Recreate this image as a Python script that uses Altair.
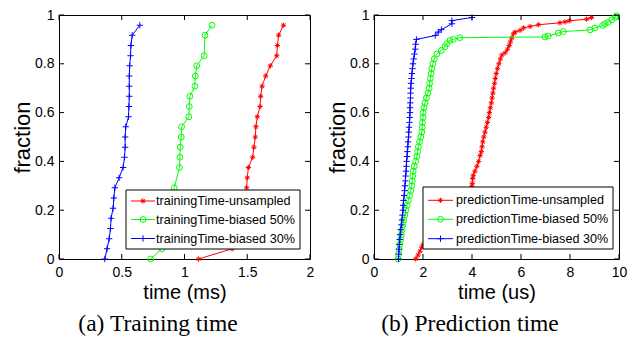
import altair as alt
import pandas as pd

FONT = "Liberation Sans, Arial, sans-serif"
SERIF = "Liberation Serif, Times New Roman, serif"

RED, GREEN, BLUE = "#ff0000", "#00ff00", "#0000ff"
STAR = "M-1,0L1,0M0,-1L0,1M-0.7,-0.7L0.7,0.7M-0.7,0.7L0.7,-0.7"
PLUS = "M-1,0L1,0M0,-1L0,1"

frac_ticks = [0, 0.2, 0.4, 0.6, 0.8, 1]

# ---------------- (a) Training time ----------------
train_x_ticks = [0, 0.5, 1, 1.5, 2]
train_names = ["trainingTime-unsampled", "trainingTime-biased 50%", "trainingTime-biased 30%"]

train_unsampled_t = [1.112, 1.38, 1.42, 1.45, 1.47, 1.48, 1.49, 1.495, 1.50, 1.509, 1.543, 1.553,
                     1.564, 1.569, 1.58, 1.602, 1.607, 1.618, 1.647, 1.684, 1.735, 1.74, 1.75, 1.788]
train_unsampled_f = [0, 0.042, 0.083, 0.125, 0.167, 0.208, 0.25, 0.292, 0.333, 0.375, 0.417, 0.458,
                     0.5, 0.542, 0.583, 0.625, 0.667, 0.708, 0.75, 0.792, 0.833, 0.875, 0.917, 0.958]

train_b50_t = [0.73, 0.82, 0.85, 0.87, 0.88, 0.89, 0.90, 0.918, 0.96, 0.963, 0.966, 0.974, 0.977,
               1.035, 1.038, 1.043, 1.083, 1.086, 1.097, 1.157, 1.163, 1.219]
train_b50_f = [0, 0.042, 0.083, 0.125, 0.167, 0.208, 0.25, 0.292, 0.375, 0.417, 0.458, 0.5, 0.542,
               0.583, 0.625, 0.667, 0.708, 0.75, 0.792, 0.833, 0.917, 0.958]

train_b30_t = [0.365, 0.383, 0.40, 0.41, 0.415, 0.431, 0.437, 0.445, 0.479, 0.511, 0.522, 0.527,
               0.527, 0.532, 0.554, 0.557, 0.56, 0.56, 0.56, 0.563, 0.57, 0.573, 0.583, 0.644]
train_b30_f = [0, 0.042, 0.083, 0.125, 0.167, 0.208, 0.25, 0.292, 0.333, 0.375, 0.417, 0.458,
               0.5, 0.542, 0.583, 0.625, 0.667, 0.708, 0.75, 0.792, 0.833, 0.875, 0.917, 0.958]

# ---------------- (b) Prediction time ----------------
pred_x_ticks = [0, 2, 4, 6, 8, 10]
pred_names = ["predictionTime-unsampled", "predictionTime-biased 50%", "predictionTime-biased 30%"]

pred_unsampled_t = [1.70, 1.80, 1.88, 1.95, 2.01, 2.20, 2.45, 2.70, 2.95, 3.15, 3.30, 3.45, 3.57,
                    3.68, 3.78, 3.88, 3.99, 4.01, 4.03, 4.05, 4.12, 4.20, 4.27, 4.33, 4.38, 4.41,
                    4.44, 4.48, 4.53, 4.58, 4.63, 4.68, 4.71, 4.75, 4.79, 4.82, 4.85, 4.88, 4.92,
                    4.95, 4.99, 5.04, 5.10, 5.16, 5.22, 5.35, 5.45, 5.52, 5.57, 5.62, 5.69, 5.76,
                    5.96, 6.10, 6.37, 6.71, 7.59, 7.80, 7.97, 8.68, 8.88]
pred_unsampled_f = [0.0, 0.016, 0.032, 0.048, 0.06, 0.08, 0.10, 0.12, 0.14, 0.16, 0.18, 0.20, 0.22,
                    0.24, 0.26, 0.28, 0.296, 0.31, 0.33, 0.343, 0.36, 0.38, 0.40, 0.424, 0.44, 0.46,
                    0.48, 0.50, 0.52, 0.54, 0.56, 0.58, 0.60, 0.62, 0.64, 0.66, 0.68, 0.70, 0.72,
                    0.74, 0.76, 0.78, 0.80, 0.82, 0.836, 0.845, 0.86, 0.875, 0.89, 0.905, 0.923, 0.93,
                    0.937, 0.947, 0.953, 0.96, 0.968, 0.972, 0.976, 0.983, 0.99]

pred_b50_t = [0.98, 1.00, 1.03, 1.06, 1.09, 1.12, 1.15, 1.18, 1.21, 1.26, 1.30, 1.35, 1.40, 1.45,
              1.50, 1.54, 1.56, 1.58, 1.60, 1.64, 1.70, 1.75, 1.78, 1.81, 1.86, 1.91, 1.95, 1.97,
              1.98, 2.00, 2.01, 2.04, 2.08, 2.14, 2.20, 2.25, 2.27, 2.30, 2.33, 2.36, 2.40, 2.46,
              2.56, 2.75, 2.90, 2.97, 3.10, 3.24, 3.50, 6.98, 7.11, 7.52, 7.73, 8.82, 9.02, 9.33,
              9.43, 9.56, 9.70, 9.84, 9.90]
pred_b50_f = [0.0, 0.02, 0.04, 0.06, 0.08, 0.10, 0.12, 0.14, 0.16, 0.18, 0.20, 0.22, 0.24, 0.26,
              0.28, 0.30, 0.32, 0.34, 0.36, 0.38, 0.40, 0.42, 0.44, 0.46, 0.48, 0.50, 0.52, 0.54,
              0.56, 0.58, 0.60, 0.62, 0.64, 0.66, 0.68, 0.70, 0.72, 0.74, 0.76, 0.78, 0.80, 0.82,
              0.84, 0.855, 0.87, 0.883, 0.896, 0.90, 0.907, 0.91, 0.914, 0.926, 0.932, 0.939, 0.947, 0.957,
              0.964, 0.97, 0.98, 0.99, 0.997]

pred_b30_t = [1.00, 1.01, 1.02, 1.03, 1.05, 1.07, 1.09, 1.12, 1.14, 1.16, 1.18, 1.19, 1.21, 1.23,
              1.25, 1.26, 1.28, 1.29, 1.31, 1.32, 1.33, 1.35, 1.36, 1.38, 1.39, 1.41, 1.42, 1.43,
              1.45, 1.46, 1.47, 1.47, 1.48, 1.49, 1.49, 1.50, 1.51, 1.53, 1.55, 1.57, 1.59, 1.62,
              1.65, 1.68, 1.70, 1.73, 2.50, 2.62, 2.75, 3.18, 3.18, 4.00]
pred_b30_f = [0.0, 0.02, 0.04, 0.06, 0.08, 0.10, 0.12, 0.14, 0.16, 0.18, 0.20, 0.22, 0.24, 0.26,
              0.28, 0.30, 0.32, 0.34, 0.36, 0.38, 0.40, 0.42, 0.44, 0.46, 0.48, 0.50, 0.52, 0.54,
              0.56, 0.58, 0.60, 0.62, 0.64, 0.66, 0.68, 0.70, 0.72, 0.74, 0.76, 0.78, 0.80, 0.82,
              0.84, 0.86, 0.88, 0.90, 0.916, 0.93, 0.94, 0.964, 0.977, 0.99]

STYLES = [
    dict(color=RED, shape=STAR, size=28, strokeWidth=1),
    dict(color=GREEN, shape="circle", size=34, strokeWidth=1),
    dict(color=BLUE, shape=PLUS, size=40, strokeWidth=1),
]

one = pd.DataFrame({"k": [0]})


def panel(series, names, xdomain, xticks, xfmt, xtitle, W, H, box, rows, line_x, text_x,
          caption, cap_x, cap_y, ytitle_x):
    xscale = alt.Scale(domain=xdomain, nice=False, zero=False)
    yscale = alt.Scale(domain=[0, 1], nice=False)
    xaxis = alt.Axis(values=xticks, format=xfmt, title=xtitle, titleFont=FONT, titleFontSize=20,
                     titleFontWeight="normal", titleColor="black", titleY=39,
                     titleBaseline="alphabetic", labelFont=FONT, labelFontSize=14,
                     labelColor="black", labelPadding=6, ticks=False, tickSize=0, domain=False,
                     grid=False, labelFlush=False, labelOverlap=False)
    yaxis = alt.Axis(values=frac_ticks, format=".1~f", title="fraction", titleFont=FONT,
                     titleFontSize=22, titleFontWeight="normal", titleColor="black",
                     titleX=ytitle_x, titleY=H / 2, titleAngle=270, titleAlign="center",
                     titleBaseline="alphabetic", labelFont=FONT, labelFontSize=14,
                     labelColor="black", labelPadding=5, ticks=False, tickSize=0, domain=False,
                     grid=False, labelFlush=False, labelOverlap=False)
    xenc = alt.X("t:Q", scale=xscale, axis=xaxis)
    yenc = alt.Y("f:Q", scale=yscale, axis=yaxis)

    layers = []
    for (t, f), st in zip(series, STYLES):
        df = pd.DataFrame({"t": t, "f": f})
        base = alt.Chart(df).encode(x=xenc, y=yenc)
        layers.append(base.mark_line(color=st["color"], strokeWidth=1))
        layers.append(base.mark_point(shape=st["shape"], color=st["color"], filled=False,
                                      size=st["size"], strokeWidth=st["strokeWidth"], opacity=1))

    # legend
    layers.append(alt.Chart(one).mark_rect(fill="white", stroke="black", strokeWidth=1).encode(
        x=alt.value(box[0]), x2=alt.value(box[1]), y=alt.value(box[2]), y2=alt.value(box[3])))
    for name, st, ry in zip(names, STYLES, rows):
        layers.append(alt.Chart(one).mark_rule(color=st["color"], strokeWidth=1).encode(
            x=alt.value(line_x[0]), x2=alt.value(line_x[1]), y=alt.value(ry)))
        layers.append(alt.Chart(one).mark_point(shape=st["shape"], color=st["color"], filled=False,
                                                size=st["size"], strokeWidth=st["strokeWidth"],
                                                opacity=1).encode(
            x=alt.value((line_x[0] + line_x[1]) / 2), y=alt.value(ry)))
        layers.append(alt.Chart(one).mark_text(align="left", baseline="middle", font=FONT,
                                               fontSize=12.6, color="black").encode(
            x=alt.value(text_x), y=alt.value(ry), text=alt.value(name)))

    # inward ticks on all four sides
    xt = pd.DataFrame({"t": xticks})
    yt = pd.DataFrame({"f": frac_ticks})
    layers.append(alt.Chart(xt).mark_rule(color="black", strokeWidth=1).encode(
        x=xenc, y=alt.value(H), y2=alt.value(H - 5)))
    layers.append(alt.Chart(xt).mark_rule(color="black", strokeWidth=1).encode(
        x=xenc, y=alt.value(0), y2=alt.value(5)))
    layers.append(alt.Chart(yt).mark_rule(color="black", strokeWidth=1).encode(
        y=yenc, x=alt.value(0), x2=alt.value(5)))
    layers.append(alt.Chart(yt).mark_rule(color="black", strokeWidth=1).encode(
        y=yenc, x=alt.value(W), x2=alt.value(W - 5)))

    # caption
    layers.append(alt.Chart(one).mark_text(font=SERIF, fontSize=23.5, align="center",
                                           baseline="alphabetic", color="black").encode(
        x=alt.value(cap_x), y=alt.value(cap_y), text=alt.value(caption)))

    return alt.layer(*layers).properties(width=W, height=H)


H = 244
left = panel(
    [(train_unsampled_t, train_unsampled_f), (train_b50_t, train_b50_f), (train_b30_t, train_b30_f)],
    train_names, [0, 2], train_x_ticks, ".1~f", "time (ms)", 251, H,
    box=(67, 241, 175, 234), rows=(186, 204.5, 223.5), line_x=(72, 96), text_x=97,
    caption="(a) Training time", cap_x=99, cap_y=316, ytitle_x=-30)

right = panel(
    [(pred_unsampled_t, pred_unsampled_f), (pred_b50_t, pred_b50_f), (pred_b30_t, pred_b30_f)],
    pred_names, [0, 10], pred_x_ticks, "d", "time (us)", 245, H,
    box=(49, 239, 172, 234), rows=(185.3, 204.3, 223.7), line_x=(54, 79), text_x=82,
    caption="(b) Prediction time", cap_x=96, cap_y=316, ytitle_x=-30)

chart = alt.hconcat(left, right, spacing=64, bounds="flush").configure_view(
    stroke="black", strokeWidth=1).properties(
    padding={"left": 2, "top": -1, "right": 0, "bottom": 0}, background="white")

chart.save("out.html", embed_options={"renderer": "svg", "actions": False})
